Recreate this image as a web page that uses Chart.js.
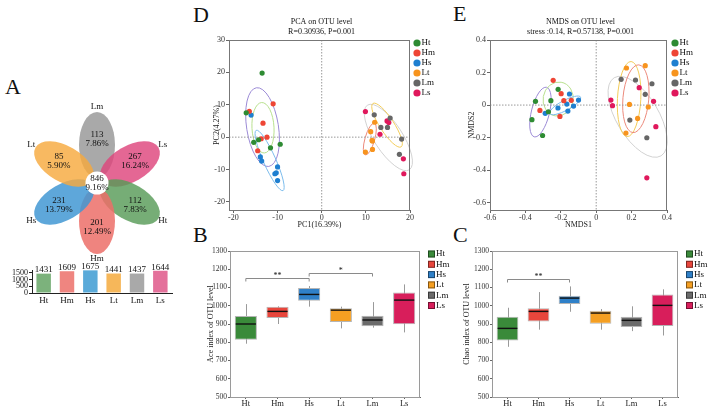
<!DOCTYPE html>
<html>
<head>
<meta charset="utf-8">
<script src="https://cdn.jsdelivr.net/npm/chart.js@4/dist/chart.umd.min.js"></script>
<style>
  body { margin: 0; width: 708px; height: 409px; position: relative; overflow: hidden; background: #fff; font-family: 'Liberation Serif', 'Times New Roman', serif; }
  canvas { position: absolute; }
  .tag { position: absolute; font-size: 22px; line-height: 1; color: #111; }
</style>
</head>
<body>
<div class="tag" style="left:5px;top:76px">A</div>
<div class="tag" style="left:193px;top:4px">D</div>
<div class="tag" style="left:453px;top:3px">E</div>
<div class="tag" style="left:193px;top:224px">B</div>
<div class="tag" style="left:453px;top:224px">C</div>

<canvas id="flower" width="194" height="176" style="left:0;top:95px"></canvas>
<canvas id="otuBars" width="180" height="45" style="left:0;top:262px"></canvas>
<canvas id="pca" width="260" height="232" style="left:180px;top:0"></canvas>
<canvas id="nmds" width="268" height="232" style="left:440px;top:0"></canvas>
<canvas id="ace" width="280" height="184" style="left:180px;top:225px"></canvas>
<canvas id="chao" width="248" height="184" style="left:460px;top:225px"></canvas>

<script>
const groups = ['Ht', 'Hm', 'Hs', 'Lt', 'Lm', 'Ls']

// venn flower, clockwise from the top petal
const petalNames = ['Lm', 'Ls', 'Ht', 'Hm', 'Hs', 'Lt']
const petalCounts = [113, 267, 112, 201, 231, 85]
const petalPercents = ['7.86%', '16.24%', '7.83%', '12.49%', '13.79%', '5.90%']
const coreCount = 846
const corePercent = '9.16%'

// total OTUs per group
const otuTotals = [1431, 1609, 1675, 1441, 1437, 1644]
const otuTicks = [0, 500, 1000, 1500]

// PCA scores [PC1, PC2]
const pcaHt = [[-13.5, 19.8], [-17.1, 7.5], [-15.4, -1.6], [-14.3, -0.8], [-11.6, -3.3], [-9.4, -2.2]]
const pcaHm = [[-16.4, 8.0], [-11.0, 10.3], [-13.3, 4.3], [-12.4, 0.0], [-13.7, -0.5], [-14.5, -4.2]]
const pcaHs = [[-16.0, 6.8], [-13.9, -6.1], [-13.6, -7.4], [-10.0, -9.2], [-10.3, -11.0], [-10.6, -11.3], [-10.0, -13.4]]
const pcaLt = [[12.0, 4.6], [11.1, 1.7], [11.5, -1.2], [11.4, -1.0], [11.5, -3.8], [9.9, -4.6]]
const pcaLm = [[11.9, 6.9], [15.5, 5.9], [13.4, 3.0], [14.9, 3.0], [18.1, -0.6], [17.6, -5.3]]
const pcaLs = [[9.9, 7.9], [14.8, 5.0], [15.2, 4.5], [13.2, 0.9], [18.5, -6.7], [18.6, -11.3]]
// ellipses [cx, cy, rx, ry, tilt deg]
const pcaEllipses = [[-13.4, 3.1, 3.6, 12.3, -9], [-13.3, 2.9, 2.5, 7.8, -3], [-11.8, -7.2, 1.4, 10.2, -24],
                     [15.1, -0.1, 3.2, 11.9, -33], [14.8, 3.7, 1.6, 8.0, -33], [10.9, -0.6, 1.1, 5.1, 16]]
const pcaXTicks = [-20, -10, 0, 10, 20]
const pcaYTicks = [-20, -10, 0, 10, 20, 30]

// NMDS scores
const nmdsHt = [[-0.343, 0.023], [-0.215, 0.097], [-0.256, 0.027], [-0.363, -0.090], [-0.303, -0.187], [-0.270, -0.041]]
const nmdsHm = [[-0.243, 0.152], [-0.198, 0.070], [-0.183, 0.027], [-0.141, 0.029], [-0.318, -0.033], [-0.205, -0.070]]
const nmdsHs = [[-0.151, 0.068], [-0.100, 0.031], [-0.166, 0.006], [-0.128, -0.006], [-0.160, -0.037], [-0.216, -0.018], [-0.288, -0.051]]
const nmdsLt = [[0.171, 0.228], [0.277, 0.242], [0.188, 0.004], [0.294, -0.012], [0.234, -0.082], [0.168, -0.172]]
const nmdsLm = [[0.141, 0.158], [0.222, 0.154], [0.315, 0.131], [0.277, 0.066], [0.190, -0.092], [0.286, -0.201]]
const nmdsLs = [[0.243, 0.107], [0.083, 0.031], [0.092, -0.004], [0.324, 0.023], [0.337, -0.133], [0.286, -0.447]]
const nmdsEllipses = [[-0.315, -0.043, 0.051, 0.157, 14], [-0.215, 0.037, 0.085, 0.105, 10], [-0.175, -0.002, 0.099, 0.031, -28],
                      [0.234, -0.072, 0.119, 0.28, -31], [0.186, 0.037, 0.066, 0.231, 3], [0.224, 0.039, 0.073, 0.209, 5]]
const nmdsXTicks = [-0.6, -0.4, -0.2, 0, 0.2, 0.4]
const nmdsYTicks = [-0.6, -0.4, -0.2, 0, 0.2, 0.4]

// alpha diversity boxplots
const aceMin = [792, 900, 995, 876, 880, 854]
const aceQ1 = [814, 933, 1028, 911, 887, 898]
const aceMedian = [900, 969, 1062, 976, 922, 1031]
const aceQ3 = [944, 995, 1097, 986, 945, 1073]
const aceMax = [1009, 997, 1108, 995, 1020, 1117]
const aceSig = [[0, 2, 1154, '**'], [2, 4, 1178, '*']]

const chaoMin = [775, 869, 967, 869, 861, 837]
const chaoQ1 = [810, 914, 1009, 901, 883, 889]
const chaoMedian = [876, 969, 1042, 960, 920, 1002]
const chaoQ3 = [940, 986, 1055, 973, 940, 1062]
const chaoMax = [989, 1075, 1106, 982, 997, 1090]
const chaoSig = [[0, 2, 1146, '**']]
const boxTicks = [500, 600, 700, 800, 900, 1000, 1100, 1200, 1300]

const petalColors = {Lm: 'rgba(150,150,150,0.82)', Ls: 'rgba(222,70,125,0.82)', Ht: 'rgba(88,155,88,0.82)',
                     Hm: 'rgba(236,110,104,0.85)', Hs: 'rgba(66,152,212,0.85)', Lt: 'rgba(246,170,62,0.82)'}
const barColors = ['#7cb27c', '#ef8580', '#5aaad9', '#f6b75a', '#a9a9a9', '#e4719b']
const dotColors = ['#2e8b33', '#ee4535', '#1f7fd0', '#f7941e', '#666666', '#e0185c']
const ringColors = ['#9b8ad6', '#b8e08e', '#7cbcec', '#d2d2d2', '#f3cd5a', '#ec8a7c']
const boxColors = ['#3a8a3a', '#e8463c', '#2f80c8', '#f59f22', '#6b6b6b', '#d81e5b']

Chart.defaults.font.family = "'Liberation Serif', 'Times New Roman', serif"
Chart.defaults.font.size = 8
Chart.defaults.color = '#222'
Chart.defaults.animation = false
Chart.defaults.responsive = false
Chart.defaults.plugins.legend.display = false
Chart.defaults.plugins.tooltip.enabled = false

const useTicks = list => scale => { scale.ticks = list.map(v => ({value: v})) }
const plain = v => String(v)

function text(ctx, str, x, y, size, align, base) {
  ctx.font = size + "px 'Liberation Serif', serif"
  ctx.fillStyle = '#111'
  ctx.textAlign = align || 'center'
  ctx.textBaseline = base || 'middle'
  ctx.fillText(str, x, y)
}

// ---- A: flower ----
const flowerPlugin = {
  id: 'flower',
  afterDraw(chart) {
    const {ctx, scales: {x, y}} = chart
    const at = (r, a) => [x.getPixelForValue(r * Math.cos(a)), y.getPixelForValue(r * Math.sin(a))]
    petalNames.forEach((name, i) => {
      const a = (90 - i * 60) * Math.PI / 180
      const [cx, cy] = at(38, a)
      ctx.save()
      ctx.fillStyle = petalColors[name]
      ctx.beginPath()
      ctx.ellipse(cx, cy, 33, 18, -a, 0, Math.PI * 2)
      ctx.fill()
      ctx.restore()
    })
    petalNames.forEach((name, i) => {
      const a = (90 - i * 60) * Math.PI / 180
      const [lx, ly] = at(76, a)
      text(ctx, name, lx, ly, 9)
      const [vx, vy] = at(44, a)
      text(ctx, String(petalCounts[i]), vx, vy - 4.5, 9)
      text(ctx, petalPercents[i], vx, vy + 4.5, 9)
    })
    const [cx, cy] = at(0, 0)
    ctx.fillStyle = '#fff'
    ctx.beginPath(); ctx.arc(cx, cy, 11.5, 0, Math.PI * 2); ctx.fill()
    text(ctx, String(coreCount), cx, cy - 4.5, 9)
    text(ctx, corePercent, cx, cy + 4.5, 9)
  }
}

new Chart('flower', {
  type: 'scatter',
  data: {datasets: []},
  options: {
    layout: {padding: 0},
    scales: {
      x: {display: false, min: -97, max: 97},
      y: {display: false, min: -88, max: 88}
    }
  },
  plugins: [flowerPlugin]
})

const valueLabels = {
  id: 'valueLabels',
  afterDatasetsDraw(chart) {
    const ctx = chart.ctx
    chart.getDatasetMeta(0).data.forEach((bar, i) => {
      text(ctx, String(otuTotals[i]), bar.x, bar.y + 1, 9, 'center', 'bottom')
    })
  }
}

new Chart('otuBars', {
  type: 'bar',
  data: {
    labels: groups,
    datasets: [{data: otuTotals, backgroundColor: barColors, barPercentage: 0.62, categoryPercentage: 1}]
  },
  options: {
    layout: {padding: {left: 0, top: 8, right: 8, bottom: 0}},
    scales: {
      x: {grid: {display: false, drawTicks: false}, border: {color: '#222'},
          ticks: {padding: 2, font: {size: 9}, color: '#111'},
          afterFit: s => { s.height = 14 }},
      y: {min: 0, max: 1700, afterBuildTicks: useTicks(otuTicks),
          grid: {drawOnChartArea: false, tickLength: 3, color: '#222'}, border: {color: '#222'},
          ticks: {padding: 1, color: '#111', autoSkip: false, callback: plain},
          afterFit: s => { s.width = 32 }}
    }
  },
  plugins: [valueLabels]
})

// ---- D / E: ordinations ----
const ellipsePlugin = {
  id: 'ellipses',
  beforeDatasetsDraw(chart) {
    const {ctx, scales: {x, y}} = chart
    const rings = chart.config.options.rings
    ctx.save()
    ctx.lineWidth = 1
    rings.forEach((e, i) => {
      const cx = x.getPixelForValue(e[0]), cy = y.getPixelForValue(e[1])
      const rx = Math.abs(x.getPixelForValue(e[0] + e[2]) - cx)
      const ry = Math.abs(y.getPixelForValue(e[1] + e[3]) - cy)
      ctx.strokeStyle = ringColors[i]
      ctx.beginPath()
      ctx.ellipse(cx, cy, rx, ry, e[4] * Math.PI / 180, 0, Math.PI * 2)
      ctx.stroke()
    })
    ctx.restore()
  }
}

const framePlugin = {
  id: 'frame',
  beforeDatasetsDraw(chart) {
    const {ctx, chartArea: a, scales: {x, y}} = chart
    const o = chart.config.options.frame
    ctx.save()
    if (o.zero) {
      ctx.strokeStyle = '#999'
      ctx.setLineDash([1.5, 1.5])
      const zx = x.getPixelForValue(0), zy = y.getPixelForValue(0)
      ctx.beginPath()
      ctx.moveTo(zx, a.top); ctx.lineTo(zx, a.bottom)
      ctx.moveTo(a.left, zy); ctx.lineTo(a.right, zy)
      ctx.stroke()
      ctx.setLineDash([])
    }
    ctx.strokeStyle = o.color
    ctx.lineWidth = 1
    ctx.strokeRect(a.left + 0.5, a.top + 0.5, a.right - a.left - 1, a.bottom - a.top)
    ctx.restore()
  },
  afterDraw(chart) {
    const {ctx, chartArea: a} = chart
    const o = chart.config.options.frame
    const mid = (a.left + a.right) / 2
    if (o.title) {
      text(ctx, o.title, mid + 2, 22, 8)
      text(ctx, o.subtitle, mid + 2, 31.5, 8)
    }
    groups.forEach((g, i) => {
      const ly = o.legendTop + i * o.legendStep
      const lx = a.right + o.legendGap
      ctx.fillStyle = o.square ? boxColors[i] : dotColors[i]
      if (o.square) {
        ctx.fillRect(lx, ly - 3.5, 7, 7)
        ctx.strokeStyle = 'rgba(0,0,0,0.45)'
        ctx.strokeRect(lx + 0.5, ly - 3, 6, 6)
      } else {
        ctx.beginPath(); ctx.arc(lx, ly, 3.6, 0, Math.PI * 2); ctx.fill()
      }
      text(ctx, g, lx + (o.square ? 8 : 4.5), ly, 9, 'left')
    })
  }
}

function ordination(id, series, rings, cfg) {
  return new Chart(id, {
    type: 'scatter',
    data: {
      datasets: groups.map((g, i) => ({
        label: g,
        data: series[i].map(p => ({x: p[0], y: p[1]})),
        backgroundColor: dotColors[i],
        borderWidth: 0,
        pointRadius: 2.6
      }))
    },
    options: {
      rings: rings,
      frame: {zero: true, color: '#777', title: cfg.title, subtitle: cfg.subtitle,
              legendTop: 43, legendStep: 10, legendGap: cfg.legendGap},
      layout: {padding: cfg.padding},
      scales: {
        x: {min: cfg.xMin, max: cfg.xMax, afterBuildTicks: useTicks(cfg.xTicks),
            grid: {drawOnChartArea: false, tickLength: 3, color: '#666'}, border: {color: '#666'},
            ticks: {padding: 0, color: '#333', autoSkip: false},
            title: {display: true, text: cfg.xTitle, padding: {top: 0, bottom: 2}, color: '#222'},
            afterFit: s => { s.height = 22 }},
        y: {min: cfg.yMin, max: cfg.yMax, afterBuildTicks: useTicks(cfg.yTicks),
            grid: {drawOnChartArea: false, tickLength: 3, color: '#666'}, border: {color: '#666'},
            ticks: {padding: 1, color: '#333', autoSkip: false},
            title: {display: true, text: cfg.yTitle, padding: {top: cfg.yTitlePad, bottom: 0}, color: '#222'},
            afterFit: s => { s.width = cfg.yWidth }}
      }
    },
    plugins: [ellipsePlugin, framePlugin]
  })
}

ordination('pca', [pcaHt, pcaHm, pcaHs, pcaLt, pcaLm, pcaLs], pcaEllipses, {
  title: 'PCA on OTU level', subtitle: 'R=0.30936, P=0.001',
  xMin: -21, xMax: 20, yMin: -22.5, yMax: 30, xTicks: pcaXTicks, yTicks: pcaYTicks,
  xTitle: 'PC1(16.39%)', yTitle: 'PC2(4.27%)', yTitlePad: 2, yWidth: 19, legendGap: 7,
  padding: {left: 30, top: 40, right: 30, bottom: 0}
})

ordination('nmds', [nmdsHt, nmdsHm, nmdsHs, nmdsLt, nmdsLm, nmdsLs], nmdsEllipses, {
  title: 'NMDS on OTU level', subtitle: 'stress :0.14, R=0.57138, P=0.001',
  xMin: -0.6, xMax: 0.4, yMin: -0.645, yMax: 0.4, xTicks: nmdsXTicks, yTicks: nmdsYTicks,
  xTitle: 'NMDS1', yTitle: 'NMDS2', yTitlePad: 1, yWidth: 24, legendGap: 8,
  padding: {left: 26, top: 40, right: 41, bottom: 0}
})

// ---- B / C: boxplots ----
const boxPlugin = {
  id: 'boxes',
  beforeDatasetsDraw(chart) {
    const {ctx, scales: {x, y}} = chart
    const ds = chart.data.datasets[0]
    ctx.save()
    ctx.strokeStyle = '#9a9a9a'
    ctx.lineWidth = 1
    ds.whiskerMin.forEach((v, i) => {
      const px = Math.round(x.getPixelForValue(i)) + 0.5
      ctx.beginPath()
      ctx.moveTo(px, y.getPixelForValue(v))
      ctx.lineTo(px, y.getPixelForValue(ds.whiskerMax[i]))
      ctx.stroke()
    })
    ctx.restore()
  },
  afterDatasetsDraw(chart) {
    const {ctx, scales: {x, y}} = chart
    const ds = chart.data.datasets[0]
    ctx.save()
    ctx.strokeStyle = '#111'
    ctx.lineWidth = 1.4
    chart.getDatasetMeta(0).data.forEach((bar, i) => {
      const py = y.getPixelForValue(ds.median[i])
      ctx.beginPath()
      ctx.moveTo(bar.x - bar.width / 2 + 1, py)
      ctx.lineTo(bar.x + bar.width / 2 - 1, py)
      ctx.stroke()
    })
    ctx.strokeStyle = '#8a8a8a'
    ctx.lineWidth = 1
    ds.sig.forEach(s => {
      const x1 = x.getPixelForValue(s[0]), x2 = x.getPixelForValue(s[1])
      const py = Math.round(y.getPixelForValue(s[2])) + 0.5
      ctx.beginPath()
      ctx.moveTo(x1, py + 3); ctx.lineTo(x1, py); ctx.lineTo(x2, py); ctx.lineTo(x2, py + 3)
      ctx.stroke()
      text(ctx, s[3], (x1 + x2) / 2, py + 1, 8, 'center', 'bottom')
    })
    ctx.restore()
  }
}

function boxChart(id, mins, q1, med, q3, maxs, sig, cfg) {
  return new Chart(id, {
    type: 'bar',
    data: {
      labels: groups,
      datasets: [{
        data: q1.map((v, i) => [v, q3[i]]),
        whiskerMin: mins, whiskerMax: maxs, median: med, sig: sig,
        backgroundColor: boxColors,
        borderColor: '#b5b5b5',
        borderWidth: 1,
        borderSkipped: false,
        barPercentage: 0.7,
        categoryPercentage: 1
      }]
    },
    options: {
      frame: {zero: false, color: '#9a9a9a', square: true, legendTop: 29, legendStep: 10.3, legendGap: 8},
      layout: {padding: cfg.padding},
      scales: {
        x: {grid: {offset: false, drawOnChartArea: false, tickLength: 2, color: '#666'}, border: {color: '#666'},
            ticks: {padding: 0, font: {size: 8.5}, color: '#222'}, afterFit: s => { s.height = 12 }},
        y: {min: 500, max: 1300, afterBuildTicks: useTicks(boxTicks),
            grid: {drawOnChartArea: false, tickLength: 2, color: '#666'}, border: {color: '#666'},
            ticks: {padding: 1, color: '#333', autoSkip: false, callback: plain, font: {size: 7.5}},
            title: {display: true, text: cfg.yTitle, padding: {top: 0, bottom: 0}, color: '#222'},
            afterFit: s => { s.width = cfg.yWidth }}
      }
    },
    plugins: [boxPlugin, framePlugin]
  })
}

boxChart('ace', aceMin, aceQ1, aceMedian, aceQ3, aceMax, aceSig, {
  yTitle: 'Ace index of OTU level', yWidth: 24,
  padding: {left: 26, top: 26, right: 40, bottom: 0}
})

boxChart('chao', chaoMin, chaoQ1, chaoMedian, chaoQ3, chaoMax, chaoSig, {
  yTitle: 'Chao index of OTU level', yWidth: 30,
  padding: {left: 2, top: 26, right: 30, bottom: 0}
})
</script>
</body>
</html>
